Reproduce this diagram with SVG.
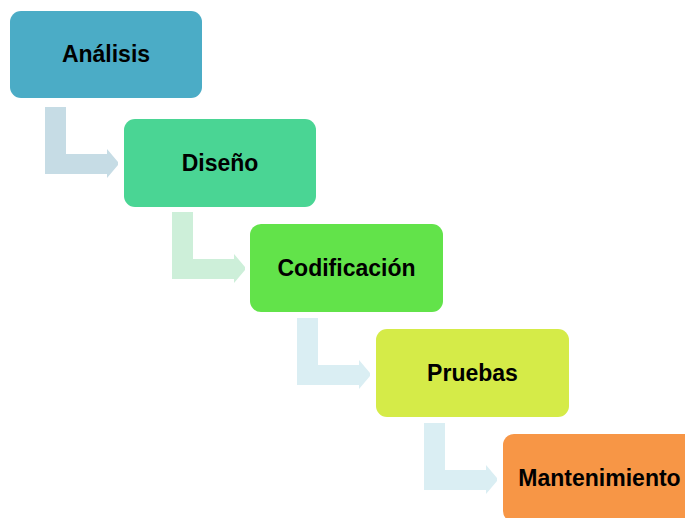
<svg xmlns="http://www.w3.org/2000/svg" xmlns:xlink="http://www.w3.org/1999/xlink" width="685" height="518" viewBox="0 0 685 518">
<style>
.box{stroke:none}
.lbl{font-family:"Liberation Sans",Arial,sans-serif;font-weight:bold;font-size:23px;fill:#000;text-anchor:middle}
</style>
<defs>
<path id="bent" d="M0,0 H21 V47 H62 V42 L73,55 V58 L62,71 V67 H0 Z"/>
</defs>
<rect width="685" height="518" fill="#fff"/>
<g id="connectors">
<use xlink:href="#bent" transform="translate(45,107)" fill="#C6DCE5"/>
<use xlink:href="#bent" transform="translate(172,212)" fill="#CDEFD9"/>
<use xlink:href="#bent" transform="translate(297,318)" fill="#DAEEF3"/>
<use xlink:href="#bent" transform="translate(424,423)" fill="#DAEEF3"/>
</g>
<g id="analisis"><rect class="box" x="10" y="11" width="192" height="87" rx="11" fill="#4BACC6"/><text class="lbl" x="106" y="62">Análisis</text></g>
<g id="diseno"><rect class="box" x="124" y="119" width="192" height="88" rx="11" fill="#4AD594"/><text class="lbl" x="220" y="171">Diseño</text></g>
<g id="codificacion"><rect class="box" x="250" y="224" width="193" height="88" rx="11" fill="#62E34A"/><text class="lbl" x="346.5" y="276">Codificación</text></g>
<g id="pruebas"><rect class="box" x="376" y="329" width="193" height="88" rx="11" fill="#D5EB48"/><text class="lbl" x="472.5" y="381">Pruebas</text></g>
<g id="mantenimiento"><rect class="box" x="503" y="434" width="193" height="88" rx="11" fill="#F79646"/><text class="lbl" x="599.5" y="486">Mantenimiento</text></g>
</svg>
